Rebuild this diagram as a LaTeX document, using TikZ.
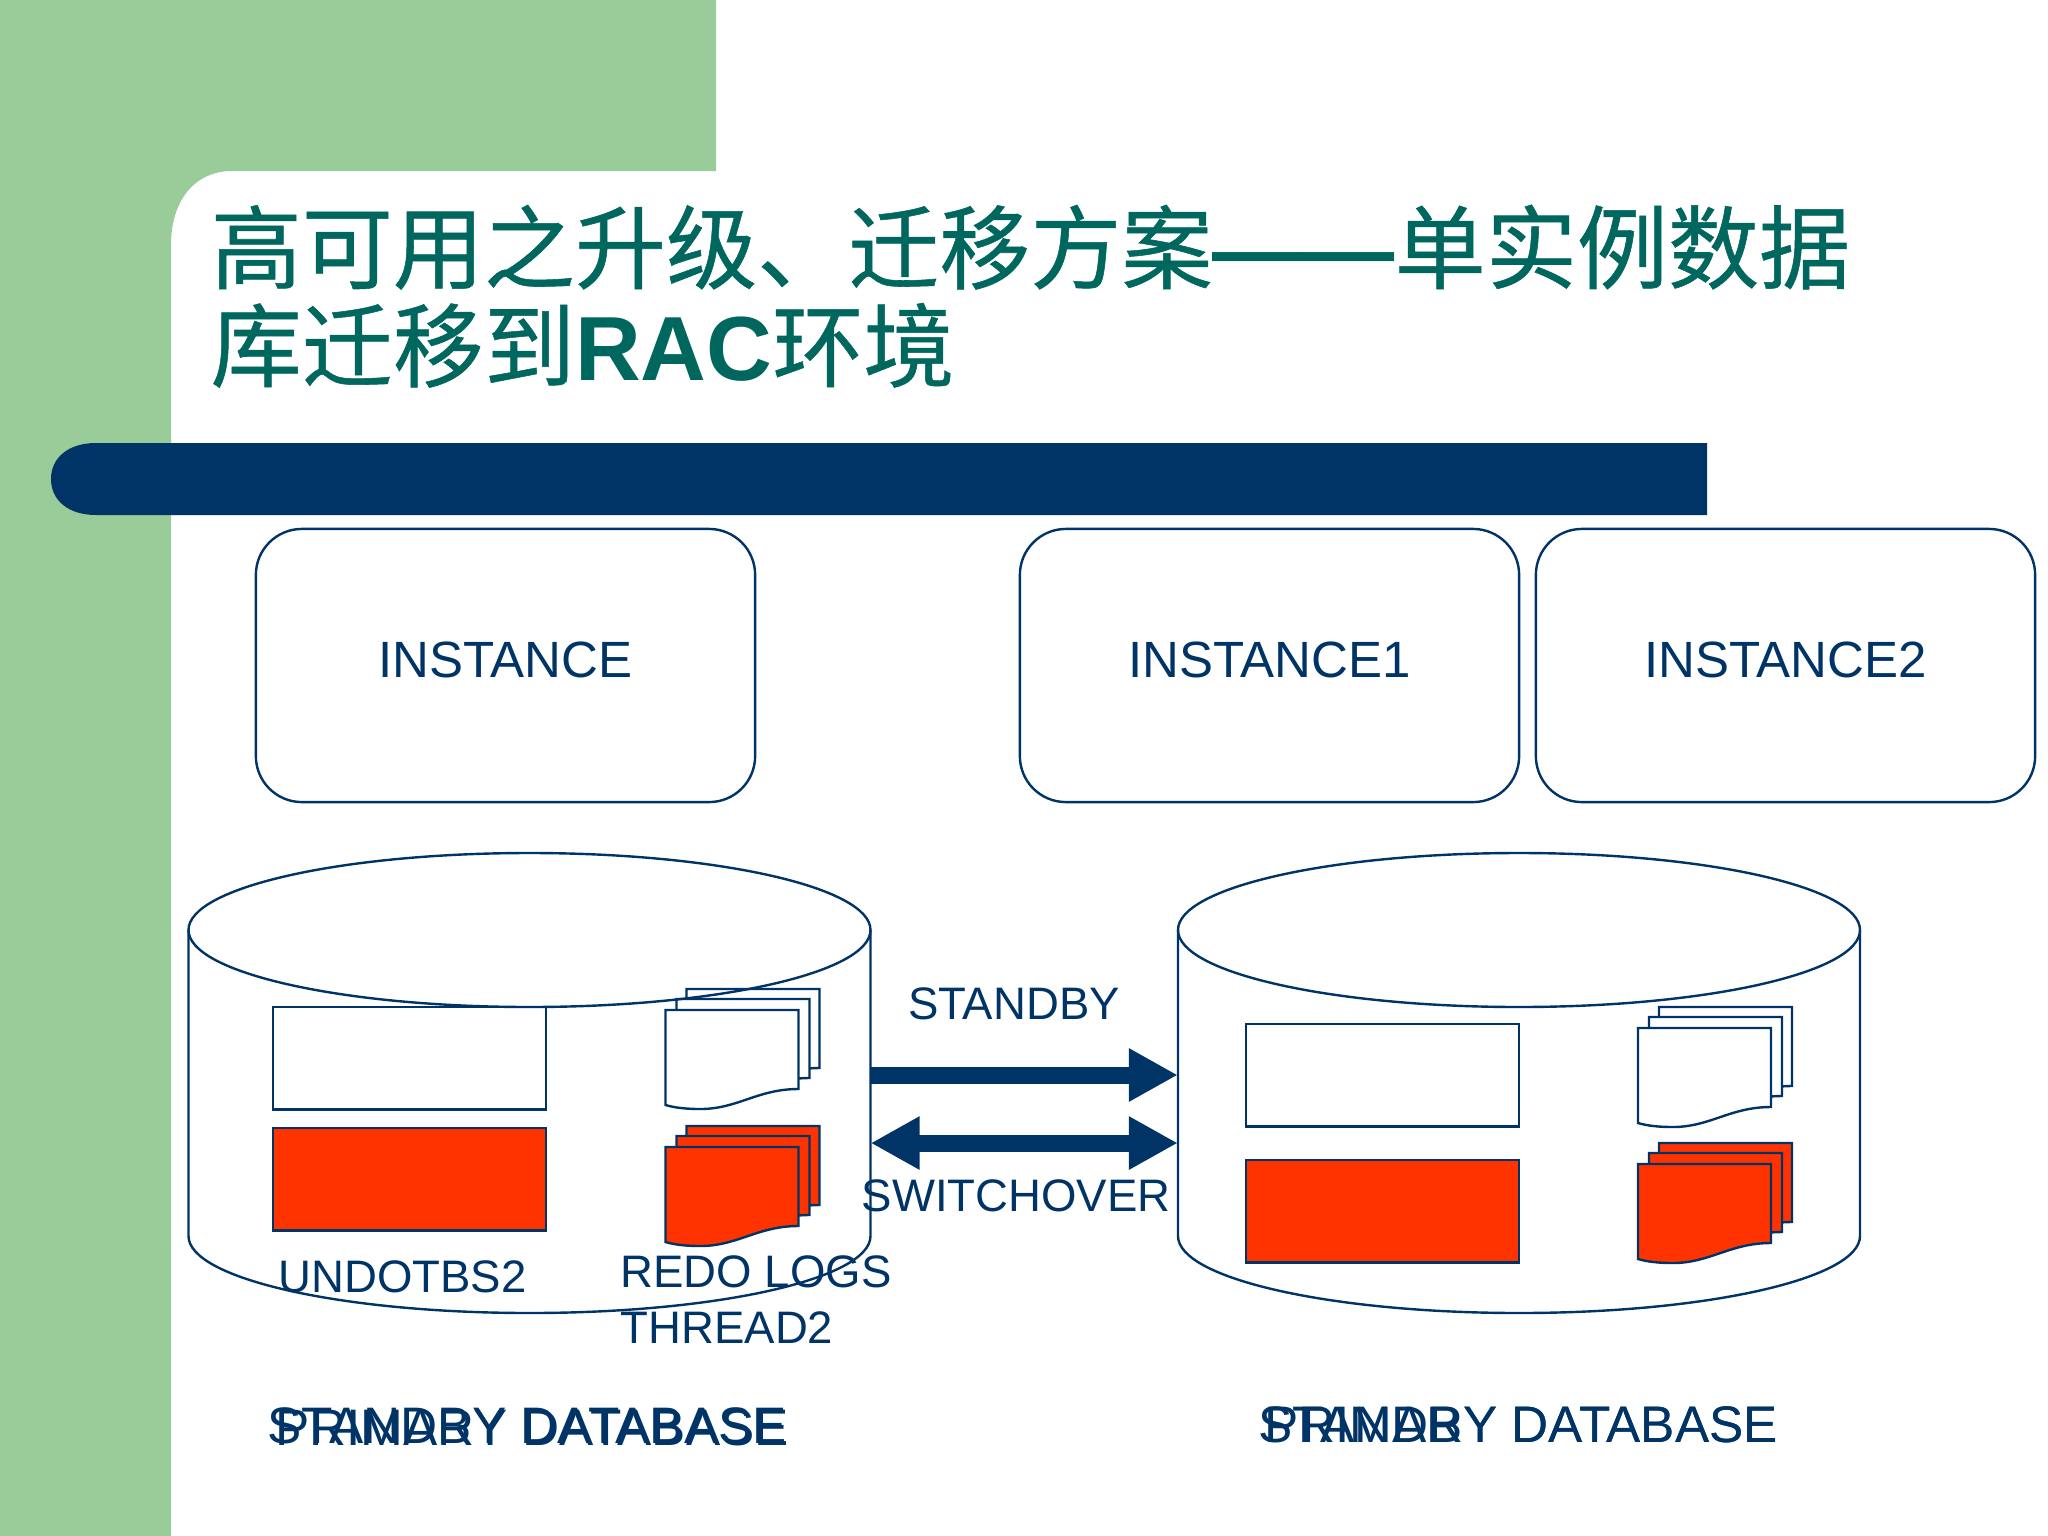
\documentclass[tikz,border=0pt]{standalone}
\usepackage{fontspec}
\setmainfont{Liberation Sans}
\newfontfamily\cjk[FakeBold=0.6]{Noto Sans CJK SC}
\usepackage{xcolor}
\usepackage{tikz}
\usetikzlibrary{shapes,arrows.meta,positioning}

\definecolor{slidegreen}{HTML}{99CC99}
\definecolor{slidenavy}{HTML}{003366}
\definecolor{titleteal}{HTML}{00675F}
\definecolor{redofill}{HTML}{FF3300}

\tikzset{
    outline/.style={draw=slidenavy, line width=0.024cm},
    instancebox/.style={outline, rounded corners=0.46cm, minimum width=4.99cm, minimum height=2.73cm, text depth=0.12cm, text=slidenavy, font=\fontsize{14.5pt}{17pt}\selectfont},
    dbspot/.style={minimum width=6.82cm, minimum height=4.6cm, inner sep=0pt, outer sep=0pt},
    smalllabel/.style={inner sep=0pt, text=slidenavy, font=\fontsize{12.95pt}{15.65pt}\selectfont},
    dblabel/.style={inner sep=0pt, anchor=base east, text=slidenavy, font=\fontsize{14.6pt}{17pt}\selectfont},
    blockarrow/.style={slidenavy, line width=0.17cm},
    blockhead/.tip={Triangle[length=0.49cm, width=0.5cm]},
}

\begin{document}
\begin{tikzpicture}[x=0.01cm, y=-0.01cm]
    \useasboundingbox (0,0) rectangle (2048,1536);

    % Slide background
    \fill[slidegreen] (0,0) -- (716,0) -- (716,171) -- (232,171) .. controls (195,171) and (171,200) .. (171,245) -- (171,1536) -- (0,1536) -- cycle;
    \fill[slidenavy] (1707,443) -- (96,443) .. controls (68,443) and (51,458) .. (51,479) .. controls (51,500) and (68,515) .. (96,515) -- (1707,515) -- cycle;

    % Title
    \node (title) [anchor=base west, inner sep=0pt, align=left, text=titleteal, font=\fontsize{25.9pt}{27.9pt}\selectfont] at (210,380)
        {{\cjk 高可用之升级、迁移方案}\textbf{——}{\cjk 单实例数据}\\{\cjk 库迁移到}\textbf{RAC}{\cjk 环境}};

    % Instances
    \node (instance) [instancebox] at (505.5,665.5) {INSTANCE};
    \node (instanceA) [instancebox] at (1269.5,665.5) {INSTANCE1};
    \node (instanceB) [instancebox] at (1785.5,665.5) {INSTANCE2};

    % Undo tablespaces
    \foreach \bx/\by/\col in {273/1007/white, 273/1128/redofill, 1246/1024/white, 1246/1160/redofill}
        \draw[outline, fill=\col] (\bx,\by) rectangle ++(273,102.5);

    % Redo log stacks
    \foreach \sx/\sy/\col in {665.5/1010/white, 665.5/1147/redofill, 1638/1028/white, 1638/1164/redofill}
        \foreach \off in {21,11,0}
            \draw[outline, fill=\col, shift={(\sx+\off,\sy-\off)}] (0,0) -- (133,0) -- (133,79)
                .. controls (92,79) and (72,99) .. (35,99) .. controls (22,99) and (10,98) .. (0,95) -- cycle;

    % Databases
    \node (standbyDb) [dbspot] at (529.5,1083) {};
    \node (primaryDb) [dbspot] at (1519,1083) {};
    \foreach \cx in {529.5,1519} {
        \draw[outline] (\cx,930) ellipse [x radius=341, y radius=77];
        \draw[outline] (\cx-341,930) -- (\cx-341,1236) arc [start angle=180, end angle=0, x radius=341, y radius=77] -- (\cx+341,930);
    }

    % Arrows between databases
    \draw[blockarrow, -{blockhead}] ([yshift=0.08cm]standbyDb.east) -- ([yshift=0.08cm]primaryDb.west);
    \draw[blockarrow, {blockhead}-{blockhead}] ([yshift=-0.6cm]standbyDb.east) -- ([yshift=-0.6cm]primaryDb.west);

    % Labels
    \node (standbyText) [smalllabel, anchor=base] at (1014,1019) {STANDBY};
    \node (switchText) [smalllabel, anchor=base] at (1016,1211) {SWITCHOVER};
    \node (undoText) [smalllabel, anchor=base west] at (278,1292) {UNDOTBS2};
    \node (redoText) [smalllabel, anchor=base west, align=left] at (620,1343) {REDO LOGS\\THREAD2};

    % Overprinted captions
    \node (standbyCap) [dblabel] at (787.5,1443) {STANDBY DATABASE};
    \node (primaryCap) [dblabel] at (789.5,1445) {PRIMARY DATABASE};
    \node (standbyCapB) [dblabel] at (1778.5,1442) {STANDBY DATABASE};
    \node (primaryCapB) [dblabel] at (1778.5,1442) {PRIMARY DATABASE};
\end{tikzpicture}
\end{document}
